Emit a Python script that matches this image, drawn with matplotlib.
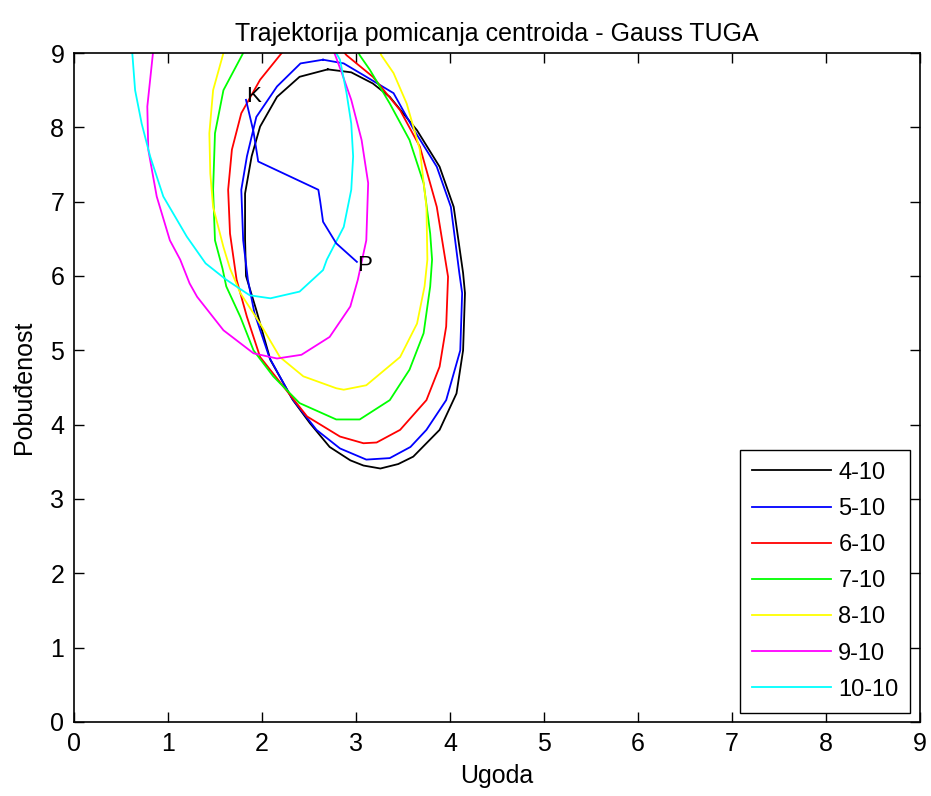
import matplotlib
matplotlib.use("Agg")
import matplotlib.pyplot as plt

plt.rcParams['font.family'] = ['Liberation Sans', 'DejaVu Sans']

# legend labels and line colours (MATLAB defaults)
labels = ['4-10', '5-10', '6-10', '7-10', '8-10', '9-10', '10-10']
colors = ['k', 'b', 'r', '#00ff00', '#ffff00', '#ff00ff', '#00ffff']

# contour curves (x = Ugoda, y = Pobudenost)
x_410 = [2.70, 2.40, 2.16, 1.98, 1.89, 1.82, 1.82, 1.83, 1.94, 2.09, 2.33, 2.51, 2.72, 2.94,
         3.08, 3.26, 3.45, 3.61, 3.89, 4.07, 4.14, 4.16, 4.14, 4.04, 3.89, 3.65, 3.36, 3.18,
         2.95, 2.70]
y_410 = [8.78, 8.68, 8.41, 8.01, 7.61, 7.11, 6.50, 6.00, 5.54, 4.87, 4.33, 4.02, 3.70, 3.52,
         3.45, 3.41, 3.47, 3.57, 3.93, 4.42, 5.00, 5.77, 6.04, 6.93, 7.47, 7.96, 8.41, 8.59,
         8.74, 8.78]

x_510 = [2.65, 2.41, 2.16, 1.94, 1.84, 1.78, 1.80, 1.85, 1.92, 2.08, 2.32, 2.58, 2.83, 3.11,
         3.36, 3.58, 3.75, 3.96, 4.11, 4.13, 4.10, 4.01, 3.86, 3.62, 3.40, 3.11, 2.87, 2.65]
y_510 = [8.91, 8.86, 8.55, 8.14, 7.61, 7.16, 6.48, 5.95, 5.50, 4.90, 4.35, 3.93, 3.68, 3.53,
         3.55, 3.70, 3.93, 4.33, 5.00, 5.77, 6.04, 6.93, 7.47, 7.96, 8.46, 8.68, 8.86, 8.91]

x_610 = [2.21, 1.98, 1.78, 1.68, 1.64, 1.66, 1.73, 1.84, 1.98, 2.23, 2.48, 2.83, 3.08, 3.22,
         3.47, 3.75, 3.89, 3.96, 3.98, 3.86, 3.68, 3.47, 3.18, 2.90, 2.88]
y_610 = [9.00, 8.64, 8.19, 7.70, 7.16, 6.57, 5.95, 5.45, 4.91, 4.51, 4.11, 3.84, 3.75, 3.76,
         3.93, 4.33, 4.78, 5.32, 5.99, 6.93, 7.74, 8.23, 8.68, 8.97, 9.00]

x_710 = [1.80, 1.59, 1.50, 1.48, 1.50, 1.58, 1.62, 1.77, 1.91, 2.12, 2.40, 2.79, 3.04, 3.36,
         3.57, 3.72, 3.79, 3.81, 3.79, 3.72, 3.57, 3.36, 3.15, 3.04, 3.03]
y_710 = [9.00, 8.50, 7.92, 7.16, 6.48, 6.10, 5.86, 5.45, 5.00, 4.65, 4.29, 4.07, 4.07, 4.33,
         4.74, 5.23, 5.86, 6.22, 6.57, 7.25, 7.83, 8.32, 8.77, 8.97, 9.00]

x_810 = [1.59, 1.48, 1.44, 1.45, 1.48, 1.59, 1.66, 1.77, 1.98, 2.19, 2.44, 2.79, 2.87, 3.11,
         3.47, 3.65, 3.73, 3.76, 3.75, 3.68, 3.54, 3.40, 3.27, 3.26]
y_810 = [9.00, 8.50, 7.92, 7.38, 6.93, 6.39, 6.10, 5.77, 5.36, 4.91, 4.65, 4.49, 4.47, 4.53,
         4.91, 5.36, 5.86, 6.22, 6.93, 7.70, 8.32, 8.73, 8.97, 9.00]

x_910 = [0.84, 0.78, 0.79, 0.88, 1.02, 1.13, 1.23, 1.31, 1.59, 1.91, 2.16, 2.42, 2.72, 2.94,
         3.02, 3.11, 3.13, 3.06, 2.95, 2.85, 2.78, 2.77]
y_910 = [9.00, 8.28, 7.70, 7.07, 6.48, 6.22, 5.90, 5.72, 5.27, 4.96, 4.89, 4.94, 5.18, 5.59,
         5.95, 6.48, 7.25, 7.83, 8.37, 8.73, 8.97, 9.00]

x_1010 = [0.62, 0.65, 0.72, 0.81, 0.95, 1.20, 1.40, 1.62, 1.87, 2.09, 2.40, 2.65, 2.69, 2.87,
          2.95, 2.97, 2.95, 2.90, 2.83, 2.79]
y_1010 = [9.00, 8.50, 8.05, 7.61, 7.07, 6.53, 6.17, 5.95, 5.74, 5.70, 5.79, 6.08, 6.22, 6.66,
          7.16, 7.61, 8.05, 8.46, 8.91, 9.00]

curves_x = [x_410, x_510, x_610, x_710, x_810, x_910, x_1010]
curves_y = [y_410, y_510, y_610, y_710, y_810, y_910, y_1010]

# centroid trajectory, P = start, K = end
traj_x = [3.01, 2.79, 2.65, 2.62, 2.60, 1.96, 1.91, 1.83]
traj_y = [6.19, 6.44, 6.73, 7.00, 7.16, 7.54, 7.94, 8.37]

fig = plt.figure(figsize=(9.31, 7.96), dpi=100)
ax = fig.add_axes([0.0795, 0.093, 0.9085, 0.8404])

for cx, cy, col, lab in zip(curves_x, curves_y, colors, labels):
    ax.plot(cx, cy, color=col, lw=1.3, label=lab)

ax.plot(traj_x, traj_y, color='b', lw=1.3)
ax.text(traj_x[0], traj_y[0] - 0.05, 'P', fontsize=16, ha='left', va='center')
ax.text(traj_x[-1], traj_y[-1] + 0.05, 'K', fontsize=16, ha='left', va='center')

ax.set_xlim(0, 9)
ax.set_ylim(0, 9)
ax.set_xticks(range(10))
ax.set_yticks(range(10))
ax.tick_params(direction='in', length=7, width=1, top=True, right=True,
               labelsize=18, pad=7)
for s in ax.spines.values():
    s.set_linewidth(1.2)

ax.set_title('Trajektorija pomicanja centroida - Gauss TUGA', fontsize=18, pad=9)
ax.set_xlabel('Ugoda', fontsize=18, labelpad=6)
ax.set_ylabel('Pobuđenost', fontsize=18, labelpad=10)

leg = ax.legend(loc='lower right', fontsize=17, fancybox=False, framealpha=1,
                edgecolor='k', handlelength=3.35, labelspacing=0.6,
                borderaxespad=0.4, handletextpad=0.3, borderpad=0.5)
leg.get_frame().set_linewidth(1.0)

fig.savefig('out.png', dpi=100)
